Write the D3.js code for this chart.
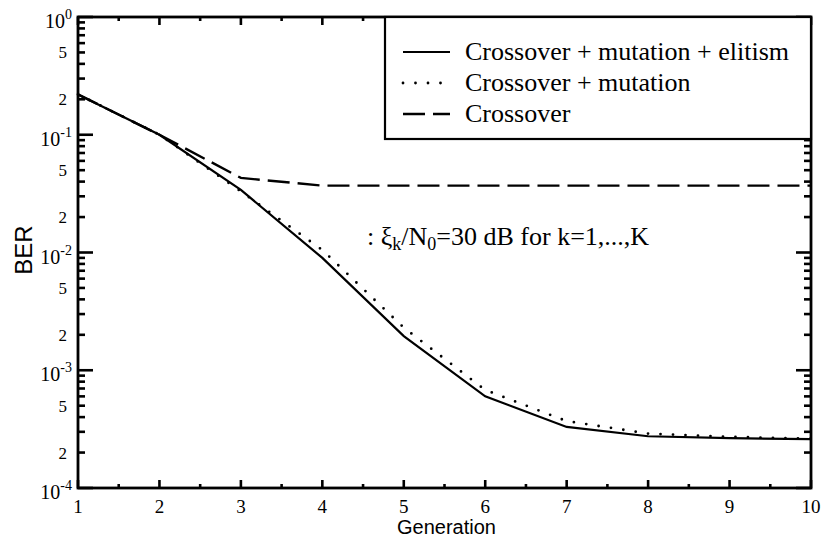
<!DOCTYPE html>
<html><head><meta charset="utf-8">
<script src="https://cdn.jsdelivr.net/npm/d3@7"></script>
<style>body{margin:0;background:#fff}svg{display:block}</style>
</head><body>
<svg id="c" width="824" height="537"></svg>
<script>
const generations = [1,2,3,4,5,6,7,8,9,10];
const elitism   = [0.22, 0.10, 0.034, 0.0090, 0.00195, 0.00060, 0.00033, 0.000275, 0.000265, 0.00026];
const mutation  = [0.22, 0.10, 0.033, 0.0105, 0.0023, 0.00068, 0.00037, 0.00029, 0.000272, 0.000262];
const crossover = [0.22, 0.10, 0.043, 0.037, 0.037, 0.037, 0.037, 0.037, 0.037, 0.037];
const seriesNames = ["Crossover + mutation + elitism","Crossover + mutation","Crossover"];
const xTicks = [1,2,3,4,5,6,7,8,9,10];
const xMinor = [1.5,2.5,3.5,4.5,5.5,6.5,7.5,8.5,9.5];
const yMajor = [1e-4,1e-3,1e-2,1e-1,1];
const yMajorExp = ["-4","-3","-2","-1","0"];
const yLabeledMinor = [2e-4,5e-4,2e-3,5e-3,2e-2,5e-2,2e-1,5e-1];
const yLabeledMinorText = ["2","5","2","5","2","5","2","5"];

const svg = d3.select("#c");
const L=78,R=811,T=17,B=488;
const x = d3.scaleLinear().domain([1,10]).range([L,R]);
const y = d3.scaleLog().domain([1e-4,1]).range([B,T]);

const yMinorAll = [];
[1e-4,1e-3,1e-2,1e-1].forEach(d=>{for(let k=2;k<=9;k++) yMinorAll.push(d*k);});

const serif = "'Liberation Serif','Times New Roman',serif";
const sans = "'Liberation Sans',Arial,sans-serif";

// data lines
const line = d3.line().x((d,i)=>x(generations[i])).y(d=>y(d));
svg.append("path").datum(elitism).attr("d",line).attr("fill","none").attr("stroke","#000").attr("stroke-width",2.2);
svg.append("path").datum(mutation).attr("d",line).attr("fill","none").attr("stroke","#000").attr("stroke-width",2.8)
  .attr("stroke-dasharray","0,12.5").attr("stroke-linecap","round");
svg.append("path").datum(crossover).attr("d",line).attr("fill","none").attr("stroke","#000").attr("stroke-width",2.4)
  .attr("stroke-dasharray","22,8");

// frame
svg.append("rect").attr("x",L).attr("y",T).attr("width",R-L).attr("height",B-T)
  .attr("fill","none").attr("stroke","#000").attr("stroke-width",2.8);

// tick marks
const tk = svg.append("g").attr("stroke","#000").attr("stroke-width",2.6);
function addY(v,len){
  const yy = y(v);
  tk.append("line").attr("x1",L).attr("x2",L+len).attr("y1",yy).attr("y2",yy);
  tk.append("line").attr("x1",R).attr("x2",R-len).attr("y1",yy).attr("y2",yy);
}
function addX(v,len){
  const xx = x(v);
  tk.append("line").attr("x1",xx).attr("x2",xx).attr("y1",B).attr("y2",B-len);
  tk.append("line").attr("x1",xx).attr("x2",xx).attr("y1",T).attr("y2",T+len);
}
yMajor.forEach(v=>addY(v,15));
yMinorAll.forEach(v=>addY(v,7));
xTicks.forEach(v=>addX(v,8));
xMinor.forEach(v=>addX(v,4));

// legend
const lg = svg.append("g");
lg.append("rect").attr("x",385).attr("y",T).attr("width",R-385).attr("height",122)
  .attr("fill","#fff").attr("stroke","#000").attr("stroke-width",2.2);
const styles = [
  {dash:null, w:2.2, cap:"butt"},
  {dash:"0,12.5", w:2.8, cap:"round"},
  {dash:"22,8", w:2.4, cap:"butt"}
];
const rowY = [52, 83, 114];
seriesNames.forEach((n,i)=>{
  const l = lg.append("line").attr("x1",403).attr("x2",450).attr("y1",rowY[i]).attr("y2",rowY[i])
    .attr("stroke","#000").attr("stroke-width",styles[i].w).attr("stroke-linecap",styles[i].cap);
  if(styles[i].dash) l.attr("stroke-dasharray",styles[i].dash);
  lg.append("text").attr("x",465).attr("y",rowY[i]+8).attr("font-family",serif).attr("font-size",26).text(n);
});

// annotation
const ann = svg.append("text").attr("x",367).attr("y",245).attr("font-family",serif).attr("font-size",26);
ann.append("tspan").text(": ξ");
ann.append("tspan").attr("font-size",18).attr("dy",5).text("k");
ann.append("tspan").attr("dy",-5).text("/N");
ann.append("tspan").attr("font-size",18).attr("dy",5).text("0");
ann.append("tspan").attr("dy",-5).text("=30 dB for k=1,...,K");

// y tick labels
yMajor.forEach((v,i)=>{
  const t = svg.append("text").attr("x",72).attr("y",y(v)+11).attr("text-anchor","end")
    .attr("font-family",serif).attr("font-size",20);
  t.append("tspan").text("10");
  t.append("tspan").attr("font-size",14).attr("dy",-9).text(yMajorExp[i]);
});
yLabeledMinor.forEach((v,i)=>{
  svg.append("text").attr("x",67).attr("y",y(v)+6).attr("text-anchor","end")
    .attr("font-family",serif).attr("font-size",17).text(yLabeledMinorText[i]);
});
// x tick labels
xTicks.forEach(v=>{
  svg.append("text").attr("x",x(v)).attr("y",513).attr("text-anchor","middle")
    .attr("font-family",serif).attr("font-size",19).text(v);
});
// axis titles
svg.append("text").attr("x",(L+R)/2+2).attr("y",534).attr("text-anchor","middle")
  .attr("font-family",sans).attr("font-size",20).text("Generation");
svg.append("text").attr("transform","translate(32,250) rotate(-90)").attr("text-anchor","middle")
  .attr("font-family",sans).attr("font-size",24).text("BER");
</script>
</body></html>
